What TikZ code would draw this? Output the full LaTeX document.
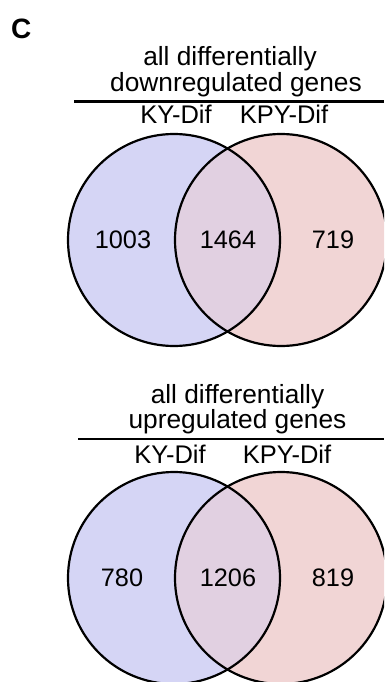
\documentclass[tikz,border=0pt]{standalone}
\usepackage{fontspec}
\setmainfont{Liberation Sans}
\definecolor{kyfill}{RGB}{213,213,245}
\definecolor{kpyfill}{RGB}{241,213,213}
\definecolor{bothfill}{RGB}{225,208,225}
\begin{document}
\begin{tikzpicture}[x=1pt,y=-1pt,
  txt/.style={font=\fontsize{26.3}{28}\selectfont, anchor=base, inner sep=0pt},
  lab/.style={font=\fontsize{25.5}{28}\selectfont, anchor=base, inner sep=0pt},
  num/.style={font=\fontsize{25.3}{28}\selectfont, anchor=center, inner sep=0pt},
  venn/.style={circle, draw=black, line width=2.2pt, minimum size=212pt, inner sep=0pt},
  rule/.style={line width=2.2pt}]
\useasboundingbox (0,0) rectangle (384,682);
\clip (0,0) rectangle (384,682);

\node[anchor=base west, inner sep=0pt, font=\fontsize{28}{30}\selectfont\bfseries] (C) at (11,38.5) {C};

% ---------- top Venn ----------
\node[txt] (t1a) at (230,66) {all differentially};
\node[txt] (t1b) at (236,92) {downregulated genes};
\coordinate (r1a) at (74,101.5);
\coordinate (r1b) at (384,101.5);
\draw[rule] (r1a) -- (r1b);
\node[lab] (ky1) at (176,124) {KY-Dif};
\node[lab] (kpy1) at (284,124) {KPY-Dif};

\fill[kyfill] (174,240) circle (106);
\fill[kpyfill] (281,240) circle (106);
\begin{scope}
  \clip (174,240) circle (106);
  \fill[bothfill] (281,240) circle (106);
\end{scope}
\node[venn] (L1) at (174,240) {};
\node[venn] (R1) at (281,240) {};
\node[num] (n1a) at (123,240) {1003};
\node[num] (n1b) at (228,240) {1464};
\node[num] (n1c) at (333,240) {719};

% ---------- bottom Venn ----------
\node[txt] (t2a) at (237.5,403.5) {all differentially};
\node[txt] (t2b) at (237.5,428.5) {upregulated genes};
\coordinate (r2a) at (78,439);
\coordinate (r2b) at (384,439);
\draw[rule] (r2a) -- (r2b);
\node[lab] (ky2) at (170,463) {KY-Dif};
\node[lab] (kpy2) at (287,463) {KPY-Dif};

\fill[kyfill] (174,578) circle (106);
\fill[kpyfill] (281,578) circle (106);
\begin{scope}
  \clip (174,578) circle (106);
  \fill[bothfill] (281,578) circle (106);
\end{scope}
\node[venn] (L2) at (174,578) {};
\node[venn] (R2) at (281,578) {};
\node[num] (n2a) at (122,578) {780};
\node[num] (n2b) at (228,578) {1206};
\node[num] (n2c) at (333,578) {819};
\end{tikzpicture}
\end{document}
